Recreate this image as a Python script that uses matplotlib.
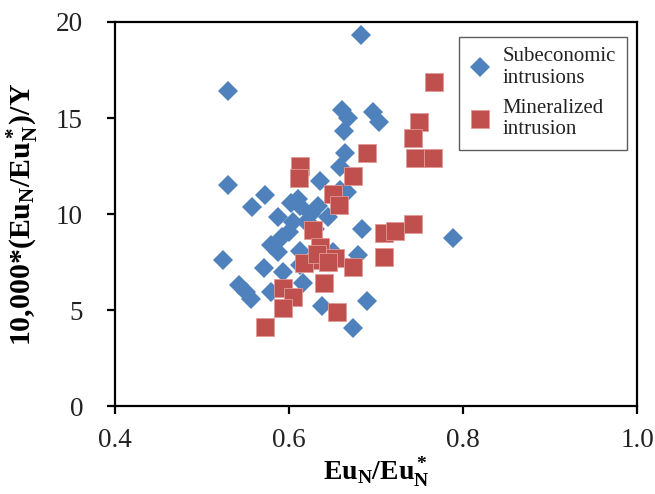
import matplotlib
matplotlib.use("Agg")
import matplotlib.pyplot as plt
import numpy as np

plt.rcParams['font.family'] = ['Liberation Serif', 'DejaVu Serif']
plt.rcParams['mathtext.fontset'] = 'custom'
plt.rcParams['mathtext.rm'] = 'Liberation Serif'
plt.rcParams['mathtext.bf'] = 'Liberation Serif:bold'
plt.rcParams['mathtext.it'] = 'Liberation Serif:italic'

# Subeconomic intrusions (blue diamonds)
sub_x = [0.683, 0.530, 0.661, 0.668, 0.697, 0.704, 0.663, 0.664, 0.659, 0.530,
         0.572, 0.636, 0.667, 0.659, 0.558, 0.587, 0.602, 0.610, 0.613, 0.633,
         0.645, 0.625, 0.600, 0.592, 0.579, 0.587, 0.613, 0.524, 0.571, 0.593,
         0.613, 0.542, 0.550, 0.556, 0.579, 0.616, 0.638, 0.673, 0.690, 0.684,
         0.679, 0.788, 0.620, 0.605, 0.630, 0.640, 0.650]
sub_y = [19.3, 16.4, 15.4, 15.0, 15.3, 14.8, 14.3, 13.2, 12.45, 11.5,
         11.0, 11.7, 11.15, 11.25, 10.35, 9.85, 10.6, 10.8, 10.4, 10.4,
         9.85, 10.0, 9.05, 8.8, 8.4, 8.0, 8.1, 7.6, 7.2, 7.0,
         7.35, 6.3, 5.95, 5.6, 5.95, 6.4, 5.2, 4.05, 5.45, 9.2,
         7.85, 8.75, 9.6, 9.6, 9.2, 7.6, 8.0]

# Mineralized intrusion (red squares)
min_x = [0.767, 0.749, 0.743, 0.745, 0.766, 0.690, 0.674, 0.613, 0.611, 0.651,
         0.657, 0.628, 0.636, 0.617, 0.638, 0.653, 0.674, 0.640, 0.593, 0.605,
         0.593, 0.655, 0.572, 0.709, 0.722, 0.743, 0.709, 0.632, 0.645]
min_y = [16.9, 14.8, 13.95, 12.9, 12.9, 13.2, 12.0, 12.5, 11.85, 11.05,
         10.45, 9.15, 8.3, 7.45, 7.6, 7.7, 7.25, 6.4, 6.15, 5.7,
         5.1, 4.9, 4.1, 9.0, 9.1, 9.5, 7.75, 7.9, 7.5]

fig = plt.figure(figsize=(6.55, 4.94), dpi=100)
ax = fig.add_axes([0.1756, 0.178, 0.7969, 0.7775])

ax.plot(sub_x, sub_y, 'D', color='#4F81BD', markersize=9.7, markeredgewidth=0,
        label='Subeconomic\nintrusions')
ax.plot(min_x, min_y, 's', color='#C0504D', markersize=13.6,
        markeredgecolor='#E29A98', markeredgewidth=0.6,
        label='Mineralized\nintrusion')

ax.set_xlim(0.4, 1.0)
ax.set_ylim(0, 20)
ax.set_xticks([0.4, 0.6, 0.8, 1.0])
ax.set_xticklabels(['0.4', '0.6', '0.8', '1.0'])
ax.set_yticks([0, 5, 10, 15, 20])

for s in ax.spines.values():
    s.set_linewidth(1.6)
ax.tick_params(direction='out', length=6, width=1.6, labelsize=19.5,
               labelcolor='#222222')
ax.tick_params(axis='x', pad=10)
ax.tick_params(axis='y', pad=17)

ax.set_xlabel(r'$\mathbf{Eu_N/Eu_N^*}$', fontsize=20)
ax.set_ylabel(r'$\mathbf{10{,}000{*}(Eu_N/Eu_N^*)/Y}$', fontsize=21.5)
ax.xaxis.set_label_coords(0.5, -0.128)
ax.yaxis.set_label_coords(-0.143, 0.5)

leg = ax.legend(loc='upper right', bbox_to_anchor=(0.98, 0.961), fontsize=15,
                frameon=True, fancybox=False, edgecolor='#333333',
                handletextpad=0.6, borderpad=0.5, labelspacing=0.5,
                handlelength=1.0, borderaxespad=0.0)
leg.get_frame().set_linewidth(1.0)
for t in leg.get_texts():
    t.set_color('#222222')

fig.savefig('out.png', dpi=100)
